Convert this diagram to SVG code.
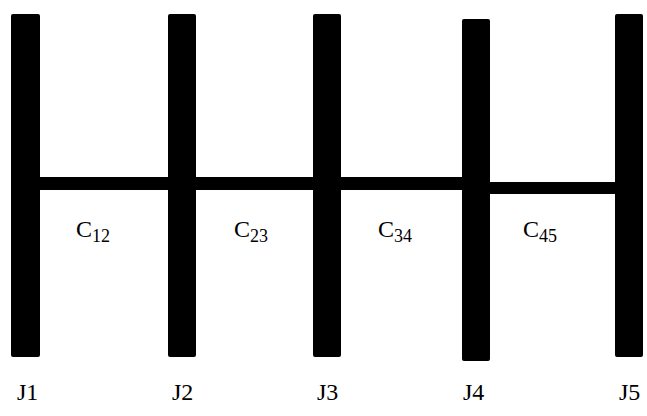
<svg xmlns="http://www.w3.org/2000/svg" width="647" height="416" viewBox="0 0 647 416">
<style>
.bar{fill:#000}
.lbl{font-family:"Liberation Serif","Times New Roman",serif;font-size:24px;fill:#000}
.sub{font-size:18px}
</style>
<rect width="647" height="416" fill="#fff"/>
<g id="connectors">
<rect class="bar" x="40" y="177" width="128" height="13"/>
<rect class="bar" x="196" y="177" width="117" height="13"/>
<rect class="bar" x="341" y="177" width="121" height="13"/>
<rect class="bar" x="490" y="182" width="125" height="12"/>
</g>
<g id="J1"><rect class="bar" x="11" y="14" width="29" height="343" rx="2"/><text class="lbl" x="17" y="400">J1</text></g>
<g id="J2"><rect class="bar" x="168" y="14" width="28" height="343" rx="2"/><text class="lbl" x="172" y="400">J2</text></g>
<g id="J3"><rect class="bar" x="313" y="14" width="28" height="343" rx="2"/><text class="lbl" x="317" y="400">J3</text></g>
<g id="J4"><rect class="bar" x="462" y="19" width="28" height="342" rx="2"/><text class="lbl" x="463" y="400">J4</text></g>
<g id="J5"><rect class="bar" x="615" y="14" width="28" height="343" rx="2"/><text class="lbl" x="619" y="400">J5</text></g>
<g id="labels">
<text class="lbl" x="76" y="237">C<tspan class="sub" dy="5">12</tspan></text>
<text class="lbl" x="234" y="237">C<tspan class="sub" dy="5">23</tspan></text>
<text class="lbl" x="378" y="237">C<tspan class="sub" dy="5">34</tspan></text>
<text class="lbl" x="523" y="237">C<tspan class="sub" dy="5">45</tspan></text>
</g>
</svg>
